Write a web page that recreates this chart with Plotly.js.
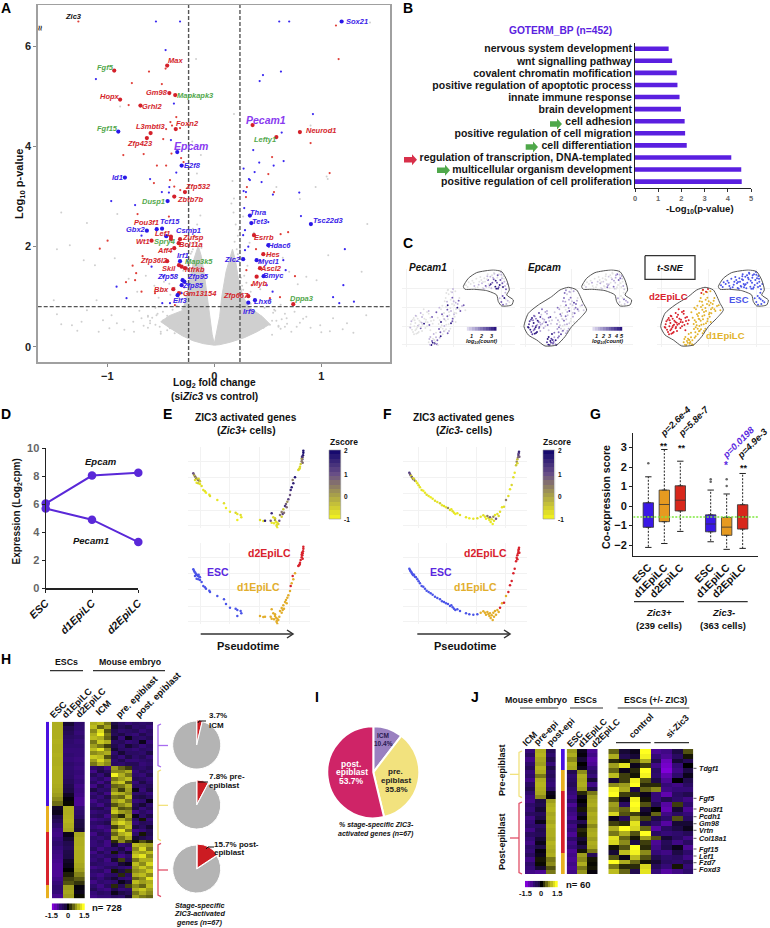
<!DOCTYPE html>
<html><head><meta charset="utf-8">
<script src="https://cdn.plot.ly/plotly-3.0.1.min.js"></script>
<style>html,body{margin:0;padding:0;background:#fff}</style></head>
<body><div id="chart" style="width:770px;height:928px"></div>
<script>
// ---------- A: volcano ----------
const cloudX=[0,-.1,-.2,-.3,-.42,-.5,-.42,-.3,-.27,-.25,-.22,-.19,-.15,-.12,-.09,-.065,-.045,-.02,0,.02,.05,.07,.11,.17,.2,.23,.27,.32,.45,.52,.4,.28,.15,.05,0];
const cloudY=[.03,.06,.12,.22,.38,.5,.62,.72,.9,1.1,1.4,1.75,2.02,1.8,1.4,1,.6,.25,.06,.25,.6,1,1.5,1.95,1.7,1.3,1,.8,.6,.45,.3,.18,.09,.04,.03];
const grayX=[1.455,-.17,-.88,.184,.9,-.206,-.125,-.162,.17,1.05,1.06,.58,.947,.184,.8,-1.43,-1.19,-1.47,-1.35,-1.22,-1.115,-.93,-.906,1.43,1.377,1.065,.956,.86,-1.5,-1.47,-1.43,-1.33,-1.24,-1.19,-1.1,-1.04,-.96,-.91,-.835,-.757,-.68,-.6,-.54,-.51,-.477,-.414,-.43,-.37,.676,.77,.86,.99,1.11,1.24,1.42,1.52,-.7,-.62,-.55,-.48,-.44,-.39,-.35,-.31,-.27,-.52,-.46,-.42,-.36,-.3,-.26,-.24,-.21,-.18,-.16,-.13,-.12,-.2,-.17,-.22,-.29,-.33,-.37,-.41,-.47,-.56,-.64,-.72,-.8,.3,.34,.38,.43,.47,.52,.57,.62,.66,.72,.75,.8,.83,.28,.31,.26,.24,.22,.2,.18,.16,.19,.23,.27,.33,.37,.42,.5,.58,.64,.7,.78,.44,.48,.54,.6,.68,-.62,-.5,-.44,-.34,-.28,.62,.72,.9,1,1.08,1.2,1.3,-.75,-.84,-.98,-1.08,-1.28,.36,.46,.52,.3,-.55,-.58,-.53,-.6,-.35,-.33,-.3,-.28,-.26,-.24,.3,.29,.27,.26,.25,.55,.58,.6,.56,.34,.36,.31,-.24,-.23,-.2,-.18,.22,.24,.21,-.66,.66,-.62,.63,-.5,.54];
const grayY=[6.48,5.75,4.8,4.65,4.42,4.1,3.83,3.46,3.31,3.4,3.35,3.19,3.19,2.96,2.95,2.68,2.47,1.95,2.03,1.73,1.63,1.77,2.65,2.45,1.5,1.83,1.33,1.4,.93,.65,.45,.43,.5,.73,.93,.53,.63,.47,.8,.5,.57,.47,.63,.4,.53,.37,.57,.27,.57,.4,.6,.43,.57,.47,.63,.8,.72,.6,.78,.7,.62,.74,.92,1.1,1.02,.98,1.12,1.26,1.42,1.36,1.6,1.78,1.9,2.2,2.44,2.62,1.98,2.36,2.02,1.86,1.52,1.64,1.18,1.04,1.3,1.22,1.42,1.1,1.36,1.28,1.1,.95,1.15,.78,.9,.72,.84,.66,.92,.7,.48,.56,1.42,1.62,1.78,1.96,2.22,2.44,2.68,2.86,2.1,2.34,2.6,2.08,2.28,1.68,1.82,1.6,1.78,1.5,1.25,.6,.48,.52,.42,.46,.38,.3,.33,.42,.3,.36,.3,.38,.29,.31,.35,.28,.3,.34,.37,.3,.32,.28,.38,.44,.52,.44,.58,.66,.52,.82,.98,.76,1.18,1.3,1.44,.72,.9,1.14,1.22,1.38,.68,.52,.4,.74,.86,.3,.58,1.62,1.5,1.95,2.1,1.85,1.62,1.95,.42,.4,.62,.55,.26,.24];
const redSmallX=[-1.27,1.137,1.162,-.61,-.455,-.77,-.49,-.8,-.355,-.41,-.395,-.45,-.32,-.477,-.85,-.66,-.4,-.31,-.287,-.536,-.45,-.414,-.564,-.374,-.318,.9,.54,.505,1.078,.305,.558,.296,-.717,-.424,.69,.62,-1.07,-.997,.39,-.67,-.763,-.73,.754,-.74,-.825,-.68,-.554,-.368,.52,.35,.3,.614];
const redSmallY=[6.5,6.42,5.75,5.5,5.56,5.27,5.25,4.83,4.59,4.49,4.42,4.35,4.37,4.15,3.83,3.85,3.86,3.77,3.69,3.62,3.62,3.33,3.27,3.2,3.13,4.07,3.79,3.45,3.47,3.19,3.09,2.99,2.65,2.6,2.29,2.25,1.96,2.12,1.95,1.81,1.62,1.47,1.41,1.33,1.29,1.1,1.07,.83,.97,1.23,1.53,.99];
const redBigX=[-.935,-.44,-.42,-.365,-.88,-.69,-.36,-.595,-.63,-.274,-.374,.358,.58,.8,.371,-.586,-.405,-.405,-.32,-.333,-.374,.458,-.44,-.33,-.305,-.274,.427,.396,-.383,-.33,.738,.318];
const redBigY=[5.52,5.62,5.07,5.03,4.94,4.82,4.35,4.27,4.17,3.09,3,4.43,4.19,4.29,2.23,2.12,2.2,2.15,2.15,2.07,1.97,1.85,1.71,1.63,1.6,1.57,1.57,1.4,1.15,1.07,.85,1.01];
const blueSmallX=[-.545,-.32,.607,.7,-.455,-1.106,.623,.455,.424,-.377,.922,.63,-.405,.364,.42,.648,.555,.274,.377,-.355,-.6,.324,.333,.442,-.42,-.49,-.424,.274,.296,.548,.794,-.963,-.74,.28,.81,.505,-.68,1.22,.287,.27,.287,.318,.43,-.25,-.586,-.477,.667,.645,.49,1.206,-.913,-.243,-.305,.545,-.486,-.82,-.414,1.168,1.305,1.11];
const blueSmallY=[6.5,6.5,6.5,6.5,5.93,5.35,5.5,5.43,5.31,4.86,4.65,4.28,4.13,3.93,3.68,3.71,3.62,3.56,3.49,3.48,3.35,3.35,3.33,3.29,3.19,3.09,3.08,3.11,3.09,3.04,3.08,2.91,2.83,2.77,2.61,2.49,2.22,1.95,2.33,2.23,1.93,2,1.72,1.71,1.6,1.4,1.53,1.73,1.23,1.23,1.2,1.23,1.07,1.1,.87,.97,.87,.87,.9,.99];
const blueBigX=[1.19,-.897,-.346,-.305,-.835,-.436,.333,.346,.903,-.63,-.538,-.488,-.449,.505,.27,.396,-.32,.461,-.296,-.28,-.343,-.305,.318,.38];
const blueBigY=[6.5,4.3,3.89,3.62,3.38,2.91,2.62,2.47,2.45,2.32,2.35,2.36,2.21,2.03,1.75,1.73,1.71,1.41,1.33,1.3,1.03,1.23,.88,.93];
const volcNames=['Zic3','Sox21','Max','Fgf5','Hopx','Gm98','Mapkapk3','Grhl2','Foxn2','L3mbtl3','Fgf15','Pecam1','Neurod1','Lefty1','Zfp423','Epcam','E2f8','Id1','Zfp532','Zbtb7b','Dusp1','Thra','Tet3','Tsc22d3','Pou3f1','Tcf15','Gbx2','Csmp1','Lef1','Zufsp','Esrrb','Wt1','Spry4','Bcl11a','Hdac6','Aff4','Irf1','Hes','Zfp36l2','Map3k5','Zic2','Mycl1','Skil','Nfrkb','Ascl2','Bmyc','Zfp58','Zfp95','Myb','Zfp85','Bbx','Gm13154','Zfp667','Elf3','Lhx6','Dppa3','Irf9'];
const volcNameX=[-1.32,1.33,-.365,-1.02,-.975,-.533,-.18,-.58,-.25,-.59,-1,.48,.994,.47,-.695,-.22,-.2,-.9,-.156,-.227,-.564,.41,.424,1.07,-.63,-.41,-.73,-.243,-.486,-.2,.464,-.67,-.464,-.215,.607,-.464,-.296,.55,-.56,-.143,.168,.505,-.42,-.18,.526,.558,-.436,-.15,.427,-.2,-.492,-.13,.2,-.315,.452,.82,.33];
const volcNameY=[6.6,6.5,5.73,5.58,5,5.08,5.03,4.8,4.47,4.41,4.37,4.53,4.32,4.15,4.06,4.01,3.62,3.38,3.2,2.95,2.91,2.68,2.51,2.53,2.49,2.5,2.34,2.33,2.26,2.18,2.18,2.1,2.1,2.05,2.02,1.93,1.83,1.84,1.73,1.7,1.75,1.71,1.56,1.54,1.57,1.42,1.4,1.4,1.26,1.23,1.15,1.06,1.03,.92,.91,.97,.71];
const volcNameKind=['k','b','r','g','r','r','g','r','r','r','g','p','r','g','r','p','b','b','r','r','g','b','b','b','r','b','b','b','r','r','r','r','g','r','b','r','b','r','r','g','b','b','r','r','r','b','b','b','r','b','r','r','r','b','b','g','b'];
// ---------- B ----------
const goTerms=['nervous system development','wnt signalling pathway','covalent chromatin mofification','positive regulation of apoptotic process','innate immune response','brain development','cell adhesion','positive regulation of cell migration','cell differentiation','regulation of transcription, DNA-templated','multicellular organism development','positive regulation of cell proliferation'];
const goValues=[1.45,1.6,1.8,1.83,1.92,1.98,2.14,2.16,2.23,4.15,4.58,4.6];
// ---------- C ----------
const escX=[978,986,983,992,997,1003,1001,1009,1013,1018,1016,1024,1028,1026,1033,1037,1035,1042,1047,1044,1052,1056,1054,1061,1066,1063,1071,1074,1072,1079,1084,1081,1089,1093,1090,1098,1102,1006,1021,1031,1041,1049,1059,1069,1077,1087,1095,1029,1039,1046,1057,1067,1076,1086,1043,1051,1062,1073,1083,1092,1079,1088,1097,1084,1093,1103,1089,1099,1108,1096];
const escY=[166,157,171,162,152,168,158,146,172,155,164,150,174,160,145,168,155,139,172,150,163,136,175,148,170,131,158,176,143,165,134,150,171,155,138,178,162,175,141,176,148,166,143,176,133,160,168,156,170,162,158,152,172,145,133,140,128,136,126,146,205,198,208,216,204,212,224,222,217,188];
const escPecam=[0,0,0,0,0,1,0,0,0,0,1,0,0,1,0,2,0,1,0,2,3,0,1,2,3,1,2,3,0,3,1,2,3,1,0,2,1,0,0,1,0,2,1,3,0,2,1,0,1,0,2,3,2,1,0,1,0,2,1,0,1,2,0,2,3,1,2,1,0,1];
const escEpcam=[0,0,1,0,0,0,2,0,0,1,0,0,0,2,0,0,1,0,3,0,1,0,0,2,3,0,1,0,2,0,1,3,0,0,2,1,0,0,0,1,0,2,0,1,3,0,2,0,0,1,0,2,0,3,0,1,0,2,0,1,2,0,3,1,0,2,0,1,2,0];
const d1X=[926,937,914,907,898,889,903,918,923,936,947,956,893,906,912,927,933,948,952,966,899,911,922,928,942,949,961,896,903,917,924,938,944,908,913,926,933,947,901,912,918,931,888,902,908,923,882,892,899,866,876,884,871,879,891,874,886,881,958,971,976,923,936,946,932,941,917,922,931,944,953,909,919,937,902,927,943,958,913,897,888,905,921,914,878,868,894,884,870,883];
const d1Y=[193,203,214,227,233,247,238,231,226,222,218,212,263,253,249,246,243,238,233,228,271,266,259,256,253,250,243,282,276,272,268,266,260,296,288,283,280,276,307,304,298,296,322,319,313,310,329,331,323,337,333,339,321,326,343,345,336,312,204,226,241,181,187,184,209,214,204,239,234,248,222,258,284,274,292,303,226,238,268,297,308,286,215,302,338,327,345,341,344,330];
const d1Pecam=[0,2,0,0,1,2,0,0,3,0,1,2,0,2,0,0,1,0,3,1,0,0,2,0,1,0,2,0,3,0,0,2,0,0,1,0,3,0,2,1,0,0,1,3,0,2,0,2,1,0,2,3,1,0,2,3,0,1,0,2,0,0,1,0,0,1,0,2,0,0,1,0,0,2,0,1,0,0,1,2,0,0,1,0,3,1,0,2,1,0];
const d1Epcam=[1,3,2,0,3,1,2,0,3,1,4,2,1,3,0,2,4,1,3,0,2,0,3,1,0,3,1,2,0,3,1,0,2,1,0,2,1,0,3,1,0,2,2,3,4,2,4,5,3,4,5,3,5,4,2,4,3,5,0,2,1,3,1,2,2,1,3,0,2,1,3,2,1,0,3,2,1,3,1,2,3,1,2,3,4,5,4,3,5,4];
const d2X=[851,861,842,829,849,866,876,821,833,846,858,871,881,814,826,841,852,863,873,809,823,834,847,861,816,829,842,819,833,846,811,826,837,822,829,924,933,919,939,856,871,818,827,838,853,868,843,836,857,866,812,824,832,845,878];
const d2Y=[238,246,249,259,254,251,261,264,266,261,269,263,271,274,279,276,281,277,273,291,289,287,284,289,299,297,295,306,309,303,293,301,284,313,311,179,185,189,177,294,301,269,257,272,266,285,291,306,276,243,283,271,292,278,281];
const d2Pecam=[0,0,1,0,0,0,2,0,0,1,0,0,0,1,0,0,3,0,0,0,0,1,0,0,0,0,2,0,0,0,1,0,0,0,0,0,0,0,1,0,0,0,1,0,0,2,0,0,0,1,0,0,0,1,0];
const d2Epcam=[3,2,4,3,1,2,4,5,3,4,2,3,1,4,5,3,2,4,1,5,3,4,2,1,5,4,3,4,5,2,5,3,2,4,5,1,2,3,1,2,1,4,3,5,2,3,4,5,1,2,4,3,5,2,1];
const blobAX=[970,985,1010,1060,1085,1100,1108,1100,1120,1115,1085,1075,1070,1040,1000,975,970];
const blobAY=[170,145,128,120,125,150,180,195,210,225,228,215,195,182,178,178,170];
const blobBX=[797,810,840,880,905,930,955,975,985,965,940,920,895,860,835,810,797];
const blobBY=[290,250,225,200,180,172,180,220,240,265,290,320,345,348,330,315,290];
// ---------- D ----------
const dStages=['ESC','d1EpiLC','d2EpiLC'];
const epcamExpr=[6.05,8.05,8.25];
const pecamExpr=[5.7,4.9,3.3];
// ---------- E / F pseudotime ----------
const eX=[580,582,584,586,588,590,592,594,596,598,600,585,590,595,600,605,610,615,618,628,630,652,672,678,690,707,712,722,724,712,780,790,795,815,820,825,828,832,835,822,830,838,815,812,825,840,845,848,852,855,858,862,845,850,860,865,870,872,875,880,885,878,832,830,895,900,902,905,907,908,909,910,905,906,908,910,899,897];
const eY=[220,224,228,230,234,236,238,240,236,242,244,240,248,250,252,258,270,274,278,284,288,300,310,324,335,338,342,345,352,360,360,363,362,340,352,360,365,368,372,370,375,362,368,362,355,345,350,342,338,318,312,305,336,328,322,298,285,270,262,250,232,240,384,378,210,200,192,184,178,172,166,158,176,170,188,152,205,208];
const eZ=[1,.5,-.6,.8,-.4,1.2,-.8,.4,-.7,.6,-.5,-.8,-.9,-.6,-.9,-.8,-.9,-.8,-1,-.9,-.8,-.9,-.8,-1,-.9,-.7,-.9,-.8,-.9,-1,-.8,-.9,1.8,1.6,-.8,.2,-.9,-.8,-.7,-.9,-.8,1,-.9,.9,-.6,.5,-.6,1.2,.6,1.4,.8,.2,.5,-.5,.7,1.2,.9,1.6,1.8,1.7,1.9,.4,-.9,-.8,-.8,-.7,-.6,.4,1,.6,1.8,2,.1,1.4,.7,1.9,-.8,-.7];
const eStage=[0,0,0,0,0,0,0,0,0,0,0,0,0,0,0,0,0,0,0,0,0,0,0,0,0,0,0,0,0,0,1,1,1,1,1,1,1,1,1,1,1,1,1,1,1,1,1,1,1,1,1,1,1,1,1,1,1,2,1,1,1,2,1,1,2,2,2,2,2,2,2,2,2,2,2,2,2,2];
const fX=[88,90,92,94,96,98,100,102,105,108,112,116,120,125,130,135,140,146,152,158,165,172,180,186,192,198,204,210,214,218,222,226,232,240,258,268,280,292,302,310,315,318,322,325,328,330,332,335,338,340,342,345,348,352,356,360,366,372,378,385,390,395,400,404,408,410,412,414,415,416,417,412,418];
const fY=[218,222,226,228,232,235,238,236,242,244,250,256,262,270,272,278,284,288,292,296,302,306,310,316,318,322,324,330,328,334,338,342,340,345,352,355,356,355,350,346,350,356,348,354,360,352,366,358,372,350,362,345,356,342,348,335,322,320,300,288,268,255,232,218,196,185,178,172,165,160,155,190,170];
const fZ=[1.4,.9,.6,-.7,1.1,-.6,.5,-.7,.7,-.8,-.9,-.8,-.9,-.8,-1,-.9,-.8,-.9,-1,-.9,-.8,-.9,-.6,-.9,-.8,-.9,.2,-.8,-.9,-.8,-.9,-1,-.9,-.8,-.9,-1,-.9,-.8,-.9,-.8,-.9,-1,.4,-.8,-.9,.8,-.9,-.8,-1,.3,-.8,-.9,.9,-.8,-.7,-.8,-.9,-.8,.4,-.8,-.9,-.7,-.8,-.9,-.5,.3,-.4,.6,1.3,1.1,1.6,-.7,.8];
const fStage=[0,0,0,0,0,0,0,0,0,0,0,0,0,0,0,0,0,0,0,0,0,0,0,0,0,0,0,0,0,0,0,0,0,0,0,0,0,0,1,1,1,1,1,1,1,1,1,1,1,1,1,1,1,1,1,2,1,2,1,2,2,2,2,2,2,2,2,2,2,2,2,2,2];
// ---------- G ----------
const gPos=[1,2,3,4.9,5.9,6.9];
const gLabels=['ESC','d1EpiLC','d2EpiLC','ESC','d1EpiLC','d2EpiLC'];
const gColors=['#3a18e6','#e69a20','#d8281c','#3a18e6','#e69a20','#d8281c'];
const gQ1=[-1.09,-.8,-.25,-1.32,-1.5,-1.18];
const gMed=[-.55,.08,.3,-.92,-1.08,-.55];
const gQ3=[.17,.82,1.04,-.45,-.58,.07];
const gLow=[-2.12,-1.92,-1.3,-1.83,-2.22,-2.17];
const gHigh=[1.5,2.9,2.3,.82,.62,1.67];
const gOutX=[1,4.9,4.9,5.9,5.9];
const gOutY=[2.19,1.38,1.25,1.37,1.03];
const gMeanLine=[-.56,-.56];
// ---------- H ----------
const hStage=[0,0,0,0,0,0,0,0,0,0,0,0,0,0,0,0,0,0,0,1,1,1,1,1,1,2,2,2,2,2,2,2,2,2,2,2,2,1,1,1];
const hLeftRows=[[.9,-.2,-.7],[.9,-.4,-.75],[.9,-.5,-.8],[.9,-.6,-.7],[.92,-.7,-.8],[.9,-.75,-.75],[.9,-.8,-.8],[.92,-.75,-.8],[.9,-.8,-.85],[.9,-.7,-.8],[.92,-.75,-.85],[.9,-.7,-.8],[.9,-.65,-.85],[.9,-.55,-.8],[.88,-.4,-.9],[.85,-.3,-.85],[.8,-.15,-.9],[.7,-.05,-1],[.55,.05,-1],[-.15,.9,-.8],[-.1,.9,-.7],[-.3,.92,-.6],[-.5,.95,-.3],[-.7,.9,-.25],[-.85,.85,-.2],[-.9,-.1,.85],[-.8,-.2,.9],[-.7,-.4,.9],[-.8,-.5,.92],[-.85,-.35,.9],[-.9,-.3,.9],[-.95,-.15,.9],[-1,-.1,.85],[-1,0,.8],[-1,.15,.65],[-.9,.3,.45],[-.8,.4,.25],[-.7,.8,-.05],[-.8,.85,-.1],[-.95,.8,.05]];
const hRightRows=[
[.9,1,.6,-.3,-.6,-.8,-.6,-.7,-.6],[1,.5,.8,-.2,-.5,-.3,-.7,-.6,-.8],[.7,1.2,.4,-.4,-.7,-.6,-.5,-.8,-.6],[.9,1.4,.6,-.5,-.3,-.7,-.8,-.4,-.7],[1,.9,.5,-.2,-.8,-.1,-.6,-.7,-.5],[.6,1.1,.9,-.6,-.5,-.8,-.7,-.1,-.8],[.8,.6,.3,-.4,-.7,-.2,-.5,-.8,-.6],[1,1.3,.7,-.2,-.6,-.7,-.8,-.6,-.7],[.7,.8,.9,-.7,-.2,-.6,-.6,-.7,-.3],[1.1,1,.4,-.5,-.8,-.3,-.7,-.5,-.8],[.8,1.2,.8,-.7,-.4,-.8,-.8,-.7,-.6],[.6,.9,.7,-.6,-.7,-.5,-.5,-.8,-.7],
[-.7,-.5,-.9,.8,.5,.3,-.6,-.7,-.5],[-.9,-.3,-.6,.7,.7,.9,-.8,-.5,-.7],[-.5,-.8,-.3,1.4,.9,.6,-.7,-.8,-.4],[-.8,-.6,-.9,.6,.8,1,-.5,-.6,-.8],[-.6,-.9,-.5,.9,1.1,.4,-.8,-.3,-.7],[-.9,-.4,-.8,.5,.6,.9,-.6,-.7,-.5],[-.3,-.7,-.6,.7,.3,.8,-.1,-.8,-.3],[-.8,-.5,-.9,1,.9,.7,-.7,-.6,-.8],[-.6,-.8,-.4,.6,.5,1,-.4,-.3,-.6],[-.9,-.6,-.7,.8,1,.6,-.8,-.7,-.1],[-.7,-.9,-.5,.4,.7,.9,-.5,-.2,-.7],[-.5,-.4,-.8,.9,.4,.5,-.3,-.8,-.5],[-.8,-.7,-.6,1.1,.8,.7,-.9,-.6,-.8],[-.6,-.5,-.9,.5,.2,.8,-.1,-.7,-.3],[-.9,-.8,-.7,.7,.9,.6,-.6,.1,-.8],[-.7,-.6,-.4,.9,1.2,.9,-.8,-.5,-.6],[-.8,-.9,-.8,.3,.7,1,-.3,-.6,-.2],[-.6,-.7,-.9,.8,1.3,.6,-.9,-.8,-.5],[-.9,-.5,-.7,.5,.9,1.1,-.7,.1,-.4],[-.7,-.8,-.6,.9,.6,.9,-.2,-.4,-.6],[-.8,-.6,-.9,.2,.7,.3,.1,.4,.2],
[-.8,-.7,-.9,-.2,-.8,-.6,1,.9,.8],[-.6,-.9,-.7,-.7,-.3,-.9,.7,1.2,.6],[-.9,-.5,-.8,.1,-.6,-.2,.9,.8,1],[-.7,-.8,-.6,-.6,-.9,-.7,1.1,1.3,.7],[-.8,-.6,-.9,-.2,.3,-.5,.6,.9,.9],[-.6,-.7,-.8,-.8,-.2,-.1,1,.7,1.2],[-.9,-.8,-.6,-.5,-.7,-.8,.8,1.1,.8],[-.7,-.6,-.9,.1,-.3,.2,.7,.8,1.1],[-.8,-.9,-.7,-.6,.2,-.6,.9,1,.7],[-.6,-.8,-.5,-.2,-.7,-.8,.5,.7,1.3],[-.9,-.7,-.8,-.7,-.1,-.3,1,.8,.9],[-.7,-.9,-.6,.2,-.5,.3,.7,.5,1],[-.5,-.8,-.9,-.4,-.8,-.7,.9,1.1,.8],[-.8,-.6,-.7,-.1,-.3,-.5,.6,.9,.7],[-.9,-.8,-.8,-.6,-.7,-.2,.8,.6,.5]];
const hGrad=[-1.5,-1.25,-1,-.75,-.5,-.25,0,.25,.5,.75,1,1.25,1.5];
const zGrad=[[2],[1.8],[1.6],[1.4],[1.2],[1],[.8],[.6],[.4],[.2],[0],[-.2],[-.4],[-.6],[-.8],[-1]];
const countGrad=[0,.5,1,1.5,2,2.5,3,3.5,4,4.5,5];
// ---------- I ----------
const iLabels=['ICM','pre. epiblast','post. epiblast'];
const iValues=[10.4,35.8,53.7];
const hPieValues=[[3.7,96.3],[7.8,92.2],[15.7,84.3]];
// ---------- J ----------
const jEmbryoRows=[[-.8,.9,-.5],[-.6,.95,-.7],[-.9,.85,-.4],[-.7,.8,-.8],[-.5,.95,-.3],[-.8,.9,-.6],[-.7,.6,-.5],[-.9,.9,-.7],[-.6,.95,-.8],[-.4,.9,-.6],[-.7,.85,-.1],[-.85,.7,-.05],[-.9,-.3,.8],[-.7,-.4,.9],[-.8,-.2,.95],[-.6,-.5,.85],[-.9,-.3,.9],[-.8,-.1,.85],[-.7,-.6,.95],[-.9,-.4,.9],[-.6,-.5,.9],[-.8,-.2,.85],[-.9,-.1,.95],[-.7,-.3,.9],[-.8,-.05,.85],[-.6,-.1,.9],[-.9,.1,.6],[-.7,.05,.7],[-.8,-.2,.4],[-.9,-1,.6]];
const jEscRows=[[.8,-.1,-1],[.9,-.05,-.9],[.7,-.2,-1.1],[.9,0,-1],[.85,-.1,-.8],[-.4,.7,-.6],[-.7,.9,-.8],[-.6,.85,-.2],[-.5,.9,-.9],[-.7,.8,-.3],[-.8,.2,.6],[-.9,-.1,.8],[-.7,0,.85],[-1,-.1,.9],[-.8,.1,.8],[-.9,-.2,.9],[-1,-.05,.85],[-.7,-.4,.9],[-.9,-.1,.7],[-.8,.2,.85],[-1,.1,.9],[-.7,-.2,.8],[-.9,-.1,.9],[-.8,-.3,.85],[-1,.1,.6],[-.9,.8,-.5],[-1,.7,.1],[-.9,.9,.05],[-1,.6,.1],[-.9,.75,-.05]];
const jStage=[0,0,0,0,0,1,1,1,1,1,2,2,2,2,2,2,2,2,2,2,2,2,2,2,2,1,1,1,1,1];
const jCtrlRows=[[.5,-.2,-.1,1.5,-1,-.9,-.3,.4],[.9,-.4,-.2,1.4,-.8,-1,-.6,.1],[.2,.1,.4,.9,-.4,-1.3,-.2,-.5],[.8,1.3,-.1,.3,-.9,-1.4,-.8,0],[.5,-.1,.2,1.5,-.6,-1.5,-.9,-.3],[1,.3,.1,1.4,-.7,-1.2,-.7,-.1],[-.2,.3,1.4,.4,-.3,-1,0,-.4],[.7,.8,1.5,.2,.2,-.8,-.9,-.6],[1.4,.9,-.3,.5,.7,-.9,-.8,-.8],[1.5,.3,.2,-.1,-.8,-1.2,-.6,-.4],[.4,-.1,1.4,.1,-.8,-.4,-.7,-.9],[.8,-.6,1.5,.4,-.5,-1.1,.3,-.7],[.7,.5,1.4,-.2,0,-1.2,-.2,-1],[1.2,.4,.3,-.1,.5,-.9,-.6,-.8],[-.1,-.5,.8,.3,-.3,-.7,.4,-.6],[.3,.2,1.3,-.3,-.7,-1.1,-.2,-.2],[.9,1.5,1.2,.5,-1.1,-.6,-.3,-.1],[.6,.9,.4,1.5,-.6,-.8,-.7,-.5],[1.3,.5,.1,.8,.4,-.2,-.6,-.9],[1.2,.7,-.3,.3,-1,-.5,-.9,-.6],[.1,.4,1.5,.2,-.9,-.4,-.1,-1],[-.2,1,1.4,.7,-.8,-.9,-.3,-.7],[.4,-.1,1,.4,-.4,-.7,-.6,-.9],[1.5,.9,.5,.1,-.2,-.6,-.7,-.5],[.6,.2,.2,1.2,-.5,-.8,.1,-.8],[1,.5,-.4,1.3,-.8,-1.1,-.9,-.7]];
const jGenes=['Tdgf1','Fgf5','Pou3f1','Pcdh1','Gm98','Vrtn','Col18a1','Fgf15','Lef1','Fzd7','Foxd3'];
const jGeneY=[768.3,798.3,809,816.7,823.7,830.3,838.3,849,856,862.7,869.3];

// ---------- helpers (page layout only) ----------
const W=770,HT=928,F='"Liberation Sans", Arial, sans-serif';
const data=[],shapes=[],annotations=[];
const layout={width:W,height:HT,margin:{l:0,r:0,t:0,b:0},paper_bgcolor:'#fff',plot_bgcolor:'rgba(0,0,0,0)',showlegend:false,hovermode:false,shapes,annotations,font:{family:F}};
const fx=x=>x/W, fy=y=>1-y/HT;
function axes(n,x0,x1,y0,y1,xo,yo){
  const base={visible:false,fixedrange:true,showgrid:false,zeroline:false};
  layout['xaxis'+n]=Object.assign({},base,{domain:[fx(x0),fx(x1)],anchor:'y'+n},xo);
  layout['yaxis'+n]=Object.assign({},base,{domain:[fy(y1),fy(y0)],anchor:'x'+n},yo);
  return {xaxis:'x'+n,yaxis:'y'+n};
}
function T(x,y,text,o={}){
  annotations.push({xref:'paper',yref:'paper',x:fx(x),y:fy(y),text,showarrow:false,xanchor:o.a||'center',yanchor:'middle',textangle:o.r||0,
    font:{family:F,size:o.s||9,color:o.c||'#111',weight:o.n?400:700,style:o.i?'italic':'normal'}});
}
function L(x0,y0,x1,y1,c='#333',w=1.2){shapes.push({type:'line',xref:'paper',yref:'paper',x0:fx(x0),y0:fy(y0),x1:fx(x1),y1:fy(y1),line:{color:c,width:w}});}
function P(pts,fill,c,w){shapes.push({type:'path',xref:'paper',yref:'paper',path:pts.map((p,i)=>(i?'L':'M')+fx(p[0])+' '+fy(p[1])).join(' ')+(fill?' Z':''),fillcolor:fill||'rgba(0,0,0,0)',line:{color:c||fill,width:w===undefined?0:w}});}
function blockArrow(x0,x1,y,c){const m=x1-5;P([[x0,y-2.8],[m,y-2.8],[m,y-5.5],[x1,y],[m,y+5.5],[m,y+2.8],[x0,y+2.8]],c);}
function bracket(x,y0,y1,tip,c){const my=(y0+y1)/2;P([[x+3,y0],[x,y0+1.5],[x,y1-1.5],[x+3,y1]],null,c,1.3);L(x,my,tip,my,c,1.3);}
const HS=[[0,'#8000d8'],[.25,'#300a70'],[.42,'#1c0a40'],[.5,'#000'],[.62,'#4a4a10'],[.78,'#a6a61e'],[1,'#ffff20']];
function heat(n,x0,x1,y0,y1,rows,scale=HS,zmin=-1.5,zmax=1.5){
  const a=axes(n,x0,x1,y0,y1,{},{autorange:'reversed'});
  data.push(Object.assign({type:'heatmap',z:rows,colorscale:scale,zmin,zmax,showscale:false,hoverinfo:'skip'},a));
}
// ---------- A ----------
const axA=axes(1,37.7,390,5,362,
 {visible:true,range:[-1.65,1.642],tickvals:[-1,0,1],ticks:'outside',ticklen:3,tickcolor:'#888',showline:true,mirror:true,linecolor:'#a0a0a0',linewidth:1.5,tickfont:{family:F,size:11,weight:700,color:'#222'}},
 {visible:true,range:[-.306,6.83],tickvals:[0,2,4,6],ticks:'outside',ticklen:3,tickcolor:'#888',showline:true,mirror:true,linecolor:'#a0a0a0',linewidth:1.5,tickfont:{family:F,size:11,weight:700,color:'#222'}});
data.push(Object.assign({type:'scatter',mode:'lines',x:cloudX,y:cloudY,fill:'toself',fillcolor:'#cfcfcf',line:{color:'#cfcfcf',width:1}},axA));
const pts=(x,y,c,s)=>data.push(Object.assign({type:'scatter',mode:'markers',x,y,marker:{color:c,size:s,line:{width:0}},cliponaxis:false},axA));
pts(grayX,grayY,'#cfcfcf',2);
pts(redSmallX,redSmallY,'#e0403a',2.2);
pts(blueSmallX,blueSmallY,'#3a28f0',2.2);
pts(redBigX,redBigY,'#d4202a',4.2);
pts(blueBigX,blueBigY,'#2a18e8',4.2);
const kindColor={k:'#111',b:'#3a22e8',r:'#d4252b',g:'#52a84c',p:'#8a3cf0'};
volcNames.forEach((n,i)=>{const k=volcNameKind[i];annotations.push({xref:'x',yref:'y',x:volcNameX[i],y:volcNameY[i],text:n,showarrow:false,font:{family:F,size:k==='p'?10.5:7.5,color:kindColor[k],weight:700,style:'italic'}});});
const dashed=(x,y)=>data.push(Object.assign({type:'scatter',mode:'lines',x,y,line:{color:'#555',width:1.4,dash:'4px,2px'}},axA));
dashed([-.24,-.24],[-.306,6.83]);dashed([.24,.24],[-.306,6.83]);dashed([-1.65,1.642],[.8,.8]);
T(39.5,28,'≈',{r:-90,s:9});
T(20,184,'Log<sub>10</sub> p-value',{r:-90,s:11});
T(214,383.5,'Log<sub>2</sub> fold change',{s:10.2});
T(214,396,'(si<i>Zic3</i> vs control)',{s:10.2});
// ---------- B ----------
const axB=axes(2,635,751,42.7,187.7,
 {visible:true,range:[0,5],dtick:1,ticks:'outside',ticklen:3,tickcolor:'#333',showline:true,linecolor:'#222',linewidth:1,tickfont:{family:F,size:7.5,weight:700,color:'#666'}},
 {visible:true,range:[11.5,-.5],type:'linear',tickvals:goTerms.map((_,i)=>i),ticktext:goTerms,ticks:'',showline:true,linecolor:'#222',linewidth:1,tickfont:{family:F,size:10.5,weight:700,color:'#151515'}});
data.push(Object.assign({type:'bar',orientation:'h',y:goTerms.map((_,i)=>i),x:goValues,width:.38,marker:{color:'#5a1fe0'}},axB));
T(560,30,'GOTERM_BP (n=452)',{s:10.2,c:'#5a22e0'});
T(700,209,'-Log<sub>10</sub>(p-value)',{s:9.5});
blockArrow(550,562,124,'#4fa84a');blockArrow(525.7,538,147,'#4fa84a');blockArrow(404,417,159.7,'#d8304a');blockArrow(437,450,170.3,'#4fa84a');
// ---------- C ----------
const gridC={visible:true,showgrid:true,gridcolor:'#f1f1f1',gridwidth:1,showticklabels:false,ticks:'',showline:false};
const CLS=[[0,'#e2e2e2'],[.35,'#bfb2dc'],[.7,'#6a50b0'],[1,'#2a1580']];
const tX=[...escX,...d1X,...d2X],tY=[...escY,...d1Y,...d2Y];
const cPanels=[[401.7,515],[520,633.3],[656.7,770]];
cPanels.forEach((p,i)=>{
  const a=axes(3+i,p[0],p[1],269.3,347.3,Object.assign({},gridC,{range:[785,1125],tickvals:[800,940,1085]}),Object.assign({},gridC,{range:[352,118],tickvals:[175,232,290,345]}));
  if(i<2){
    const raw=i===0?[...escPecam,...d1Pecam,...d2Pecam]:[...escEpcam,...d1Epcam,...d2Epcam];
    const v=Array.from(tX,(_,k)=>raw[k]||0);
    data.push(Object.assign({type:'scatter',mode:'markers',x:tX,y:tY,marker:{size:1.9,color:v,colorscale:CLS,cmin:0,cmax:i===0?3:5,line:{width:0}}},a));
  } else {
    [[escX,escY,'#4b55e8'],[d1X,d1Y,'#e2b32c'],[d2X,d2Y,'#d8222c']].forEach(g=>data.push(Object.assign({type:'scatter',mode:'markers',x:g[0],y:g[1],marker:{size:2,color:g[2],line:{width:0}}},a)));
  }
  data.push(Object.assign({type:'scatter',mode:'lines',x:blobAX,y:blobAY,line:{color:'#555',width:1,shape:'spline',smoothing:.6}},a));
  if(i>0) data.push(Object.assign({type:'scatter',mode:'lines',x:blobBX,y:blobBY,line:{color:'#555',width:1,shape:'spline',smoothing:.6}},a));
});
const PG=[[0,'#ddd8ee'],[1,'#2a1580']];
heat(13,466.7,496.7,326.7,331,[countGrad],PG,0,5);
heat(14,592.3,622.7,326.7,331,[countGrad],PG,0,5);
[[471,'1'],[481,'2'],[491.7,'3']].forEach(t=>T(t[0],335.5,t[1],{s:5.5,i:1}));
[[596.7,'1'],[602.7,'2'],[609,'3'],[615.7,'4'],[621.5,'5']].forEach(t=>T(t[0],335.5,t[1],{s:5.5,i:1}));
T(481,341,'log<sub>10</sub>(count)',{s:5.5,i:1});T(607,341,'log<sub>10</sub>(count)',{s:5.5,i:1});
T(428,267.7,'Pecam1',{s:10,i:1});T(544,267.7,'Epcam',{s:10,i:1});
P([[645,255.7],[695,255.7],[695,279.3],[645,279.3],[645,255.7]],null,'#333',1.3);
T(670,267.5,'t-SNE',{s:9.5,i:1});
T(668,296,'d2EpiLC',{s:9.5,c:'#d8222c'});T(739,299,'ESC',{s:9.5,c:'#4b55e8'});T(725.7,335.7,'d1EpiLC',{s:9.5,c:'#e2b32c'});
// ---------- D ----------
const axD=axes(6,45.7,138.3,448.3,588.3,
 {visible:true,range:[0,2],tickvals:[0,1,2],ticktext:dStages,tickangle:-45,ticks:'outside',ticklen:3,tickcolor:'#222',showline:true,linecolor:'#222',linewidth:1.2,tickfont:{family:F,size:10.8,weight:700,style:'italic',color:'#111'}},
 {visible:true,range:[0,10],dtick:2,ticks:'outside',ticklen:3,tickcolor:'#222',showline:true,linecolor:'#222',linewidth:1.2,tickfont:{family:F,size:11,weight:700,color:'#666'}});
[epcamExpr,pecamExpr].forEach(v=>data.push(Object.assign({type:'scatter',mode:'lines+markers',x:[0,1,2],y:v,cliponaxis:false,line:{color:'#5a28d8',width:2},marker:{color:'#5a28d8',size:8.5}},axD)));
T(100.7,462,'Epcam',{s:9.5,i:1});T(90.7,540.7,'Pecam1',{s:9.5,i:1});
T(16.7,511.7,'Expression (Log<sub>2</sub>cpm)',{r:-90,s:10});
// ---------- E / F ----------
const ZS=[[0,'#eeee22'],[.33,'#a8a04a'],[.66,'#6a4f86'],[1,'#170a6e']];
const SC=['#4b55e8','#e2ae2c','#d8222c'];
const gP=vals=>({visible:true,showgrid:true,gridcolor:'#f2f2f2',showticklabels:false,ticks:'',showline:false,tickvals:vals,zeroline:false});
function pseudo(nTop,x0,x1,X,Y,Z,S,range,vg){
  const a=axes(nTop,x0,x1,446.7,528.3,Object.assign(gP(vg),{range}),Object.assign(gP([185,232,282,332,378]),{range:[385,140]}));
  data.push(Object.assign({type:'scatter',mode:'markers',x:X,y:Y,marker:{size:2.5,color:Z,colorscale:ZS,cmin:-1,cmax:2,line:{width:0}}},a));
  const b=axes(nTop+1,x0,x1,542.7,624.3,Object.assign(gP(vg),{range}),Object.assign(gP([185,232,282,332,378]),{range:[385,140]}));
  data.push(Object.assign({type:'scatter',mode:'markers',x:X,y:Y,marker:{size:2.5,color:S.map(s=>SC[s]),line:{width:0}}},b));
}
pseudo(7,188.3,310,eX,eY,eZ,eStage,[565,930],[603,690,780,868]);
pseudo(9,403.3,526.7,fX,fY,fZ,fStage,[70,440],[115,200,290,375]);
heat(11,329,340.7,450,519,zGrad,ZS,-1,2);heat(12,543,554.3,450,519,zGrad,ZS,-1,2);
[[341,344.5],[555,559]].forEach(p=>{
  [[450,'2'],[474,'1'],[496.5,'0'],[519,'-1']].forEach(t=>T(p[0]+1,t[0],t[1],{s:6.5,a:'left',n:0}));
  P([[p[0]-12,450],[p[0]-.3,450],[p[0]-.3,519],[p[0]-12,519],[p[0]-12,450]],null,'#999',.6);
});
T(344,442,'Zscore',{s:8.5});T(556.7,442,'Zscore',{s:8.5});
T(246,417.7,'ZIC3 activated genes',{s:10.2});T(246,430,'(<i>Zic3</i>+ cells)',{s:10.2});
T(464,417.7,'ZIC3 activated genes',{s:10.2});T(464,430,'(<i>Zic3</i>- cells)',{s:10.2});
T(269,553,'d2EpiLC',{s:10.5,c:'#d8222c'});T(218,572,'ESC',{s:10.5,c:'#5a28e0'});T(258.7,587,'d1EpiLC',{s:10.5,c:'#e2ae2c'});
T(485,553,'d2EpiLC',{s:10.5,c:'#d8222c'});T(440.7,572,'ESC',{s:10.5,c:'#5a28e0'});T(475.7,587,'d1EpiLC',{s:10.5,c:'#e2ae2c'});
[[200.7,293],[417.3,510]].forEach(p=>{L(p[0],634,p[1],634,'#333',1.5);P([[p[1]-6,630],[p[1],634],[p[1]-6,638]],null,'#333',1.5);T((p[0]+p[1])/2+1,646,'Pseudotime',{s:11});});
// ---------- G ----------
const axG=axes(15,633.3,758,433.3,556,
 {visible:true,range:[.06,7.86],tickvals:gPos,ticktext:gLabels,tickangle:-45,ticks:'',showline:true,linecolor:'#222',linewidth:1.2,tickfont:{family:F,size:10.5,weight:700,color:'#111'}},
 {visible:true,range:[-2.56,3.73],tickvals:[-2,-1,0,1,2,3],ticks:'outside',ticklen:3,tickcolor:'#222',showline:true,linecolor:'#222',linewidth:1.2,tickfont:{family:F,size:11,weight:700,color:'#111'}});
gPos.forEach((p,i)=>{
  data.push(Object.assign({type:'scatter',mode:'lines',x:[p,p,null,p,p],y:[gQ3[i],gHigh[i],null,gQ1[i],gLow[i]],line:{color:'#222',width:1,dash:'2px,1.5px'}},axG));
  data.push(Object.assign({type:'scatter',mode:'lines',x:[p-.2,p+.2,null,p-.2,p+.2],y:[gHigh[i],gHigh[i],null,gLow[i],gLow[i]],line:{color:'#222',width:1}},axG));
  data.push(Object.assign({type:'box',x:[p],q1:[gQ1[i]],median:[gMed[i]],q3:[gQ3[i]],lowerfence:[gQ1[i]],upperfence:[gQ3[i]],width:.65,boxpoints:false,fillcolor:gColors[i],line:{color:'#333',width:.8},hoverinfo:'skip'},axG));
});
data.push(Object.assign({type:'scatter',mode:'markers',x:gOutX,y:gOutY,marker:{color:'#666',size:2.5}},axG));
data.push(Object.assign({type:'scatter',mode:'lines',x:[.06,7.86],y:gMeanLine,line:{color:'#7de83c',width:1.5,dash:'2px,1.5px'}},axG));
T(664.3,446,'**',{s:9});T(682,448,'**',{s:9});T(743.5,468,'**',{s:9});T(725.8,465,'*',{s:10,c:'#5a28e0'});
T(675,421.7,'p=2.6e-4',{s:9.3,i:1,r:-45});T(693,421.7,'p=5.8e-7',{s:9.3,i:1,r:-45});
T(738,443,'p=0.0198',{s:9.3,i:1,r:-45,c:'#5a28e0'});T(752,444,'p=4.9e-3',{s:9.3,i:1,r:-45});
T(606,497,'Co-expression score',{r:-90,s:10.5});
L(634,601.7,684,601.7,'#333',1.3);L(697.7,601.7,747.7,601.7,'#333',1.3);
T(659,612.5,'Zic3+',{s:9.5,i:1});T(659,625.7,'(239 cells)',{s:9.5});
T(723,612.5,'Zic3-',{s:9.5,i:1});T(723,625.7,'(363 cells)',{s:9.5});
// ---------- H ----------
const STG=[[0,'#4a10e0'],[.499,'#4a10e0'],[.5,'#e8b020'],[.749,'#e8b020'],[.75,'#d8222c'],[1,'#d8222c']];
heat(16,46,49,721.7,898.3,hStage.map(v=>[v]),STG,0,2);
heat(17,52,84.7,721.7,898.3,hLeftRows);
heat(18,90,153.3,721.7,898.3,hRightRows);
heat(19,51.7,85,903.3,910,[hGrad]);
T(66,662.3,'ESCs',{s:8.8});L(50,670.7,83,670.7);T(130.7,662.3,'Mouse embryo',{s:8.8});L(93,670.7,165,670.7);
[[58.3,710,'ESC'],[77.3,703,'d1EpiLC'],[90.7,703,'d2EpiLC'],[103.3,708,'ICM'],[136.7,696.7,'pre. epiblast'],[158,695,'post. epiblast']].forEach(t=>T(t[0],t[1],t[2],{s:9.3,r:-45}));
[[51.7,'-1.5'],[68,'0'],[84,'1.5']].forEach(t=>T(t[0],915.7,t[1],{s:7.5}));
T(107,907,'n= 728',{s:9.5});
bracket(158,724,767,168,'#a86cf0');bracket(158,770,840.7,168,'#f2e27e');bracket(158,843.3,896.7,168,'#e05068');
[[720,770],[780,830],[844,894]].forEach((d,i)=>{
  data.push({type:'pie',values:hPieValues[i],labels:['a','b'],sort:false,direction:'clockwise',rotation:0,textinfo:'none',hoverinfo:'skip',pull:[.04,0],marker:{colors:['#cc1c22','#b4b4b4'],line:{color:'#fff',width:1}},domain:{x:[fx(171.7),fx(221.7)],y:[fy(d[1]),fy(d[0])]},showlegend:false});
});
T(218,715.7,'3.7%',{s:8});T(216.7,725,'ICM',{s:8});T(226.7,776,'7.8% pre-',{s:8});T(224,785.7,'epiblast',{s:8});T(236,844,'15.7% post-',{s:8});T(229,852.3,'epiblast',{s:8});
P([[198,723],[199,721],[206,721]],null,'#111',1);P([[198,782],[200,782],[208,782]],null,'#111',1);P([[206,849],[208,847],[214,847]],null,'#111',1);
T(199.3,905,'Stage-specific',{s:7.3,i:1});T(199.3,913.7,'ZIC3-activated',{s:7.3,i:1});T(199.3,922.3,'genes (n=67)',{s:7.3,i:1});
// ---------- I ----------
data.push({type:'pie',values:iValues,labels:iLabels,sort:false,direction:'clockwise',rotation:0,textinfo:'none',hoverinfo:'skip',marker:{colors:['#9a80c0','#f2e27e','#cf2467'],line:{color:'#fff',width:2}},domain:{x:[fx(327.3),fx(419.3)],y:[fy(818.3),fy(726.3)]},showlegend:false});
T(382.7,735.7,'ICM',{s:6.5,c:'#2a1a50'});T(383.3,743,'10.4%',{s:6.5,c:'#2a1a50'});
T(395,771.7,'pre.',{s:8,c:'#222'});T(396.3,780.3,'epiblast',{s:8,c:'#222'});T(396.3,789,'35.8%',{s:8,c:'#222'});
T(350.7,764,'post.',{s:8.5,c:'#fff'});T(351.7,772.3,'epiblast',{s:8.5,c:'#fff'});T(351.7,781,'53.7%',{s:8.5,c:'#fff'});
T(376,824.7,'% stage-specific ZIC3-',{s:7,i:1});T(376,833.7,'activated genes (n=67)',{s:7,i:1});
// ---------- J ----------
heat(20,525,555.7,749,874.3,jEmbryoRows);
heat(21,561,564.7,749,874.3,jStage.map(v=>[v]),STG,0,2);
heat(22,566.7,597.7,749,874.3,jEscRows);
heat(23,608.3,693.3,749,874.3,jCtrlRows);
heat(24,525,557.7,880.7,887.3,[hGrad]);
T(536.7,700,'Mouse embryo',{s:8.8});L(520,708,558.3,708);T(585.7,700,'ESCs',{s:8.8});L(570,708,603,708);
T(655,700,'ESCs (+/- ZIC3)',{s:8.8});L(617.7,708,689.3,708);
L(616,742.7,650.7,742.7);L(654.3,742.7,689,742.7);
[[530,739.3,'ICM'],[546,733,'pre-epi'],[560.7,731.7,'post-epi'],[575.3,739.3,'ESC'],[592.3,732.7,'d1EpiLC'],[605.7,732.7,'d2EpiLC'],[641,726,'control'],[677.7,726,'si-Zic3']].forEach(t=>T(t[0],t[1],t[2],{s:9,r:-45}));
T(502,770,'Pre-epiblast',{r:-90,s:9});T(502,842,'Post-epiblast',{r:-90,s:9});
bracket(519,751,797.7,510,'#f2e27e');bracket(519,802,874,510,'#e05068');
jGenes.forEach((g,i)=>{T(697,jGeneY[i],g,{s:7.2,i:1,a:'left'});L(693.5,jGeneY[i],696.5,jGeneY[i],'#333',.8);});
[[525,'-1.5'],[540.7,'0'],[556.7,'1.5']].forEach(t=>T(t[0],893.3,t[1],{s:7.5}));
T(578,884,'n= 60',{s:9.5});
// ---------- panel letters ----------
[['A',6,8],['B',408,8],['C',408,243],['D',6,414],['E',167.5,414],['F',387.5,414],['G',595,414],['H',6,659],['I',316.5,697],['J',475,697]].forEach(t=>T(t[1],t[2],t[0],{s:14,c:'#000'}));
Plotly.newPlot('chart',data,layout,{staticPlot:true,displayModeBar:false});
</script></body></html>
